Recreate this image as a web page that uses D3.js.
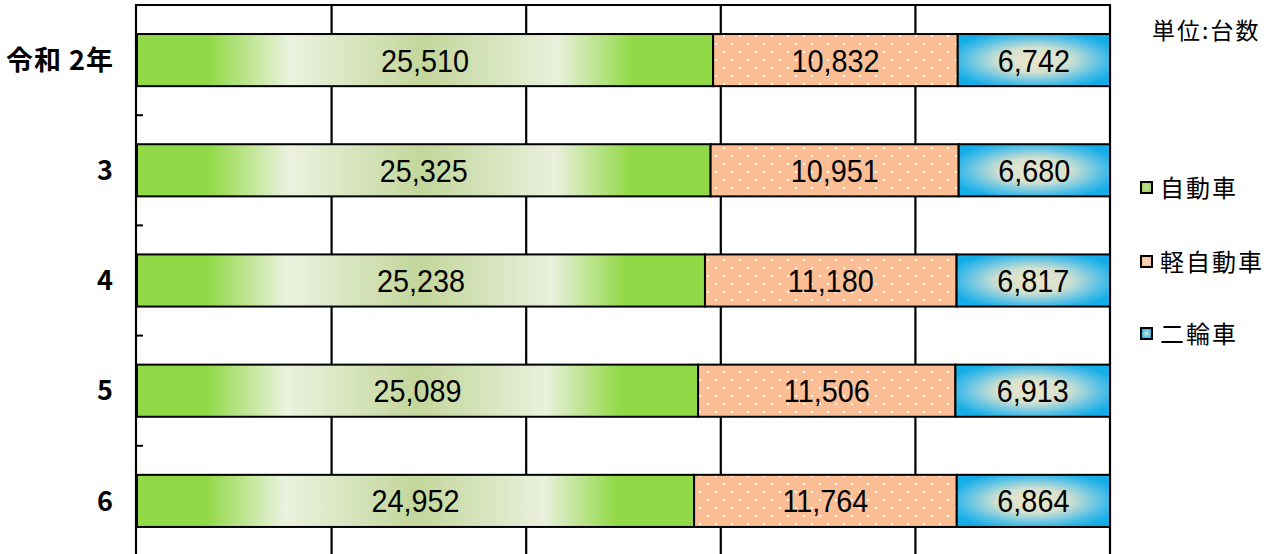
<!DOCTYPE html>
<html>
<head>
<meta charset="utf-8">
<script src="https://cdn.jsdelivr.net/npm/d3@7"></script>
<style>
  html, body { margin: 0; padding: 0; background: #fff; }
  svg { display: block; }
</style>
</head>
<body>
<svg id="chart" width="1275" height="554"></svg>
<script>
// Vehicle counts by fiscal year (units: vehicles)
const years = ["令和 2年", "3", "4", "5", "6"];
const seriesNames = ["自動車", "軽自動車", "二輪車"];
const cars = [25510, 25325, 25238, 25089, 24952];
const keiCars = [10832, 10951, 11180, 11506, 11764];
const motorcycles = [6742, 6680, 6817, 6913, 6864];
const gridTicks = [0, 0.2, 0.4, 0.6, 0.8, 1.0];

const seriesValues = [cars, keiCars, motorcycles];
const fills = ["url(#gCar)", "url(#pKei)", "url(#gMoto)"];
const legendFills = ["url(#gCarL)", "url(#gKeiL)", "url(#gMotoL)"];

const svg = d3.select("#chart");
const W = 1275, H = 554;
const plotLeft = 137, plotRight = 1110, plotTop = 5, plotBottom = 556;

// ---- paint definitions ----
const defs = svg.append("defs");

// Car bars: banded horizontal gradient green → pale → olive → pale → green
const gCar = defs.append("linearGradient").attr("id", "gCar")
  .attr("x1", 0).attr("x2", 1).attr("y1", 0).attr("y2", 0);
[[0, "#92d947"], [0.125, "#92d947"], [0.265, "#ebf2df"], [0.5, "#c3d69b"],
 [0.73, "#e9f0dc"], [0.86, "#92d947"], [1, "#92d947"]]
  .forEach(([o, c]) => gCar.append("stop").attr("offset", o).attr("stop-color", c));

// Kei car bars: peach with white dot grid
const pKei = defs.append("pattern").attr("id", "pKei")
  .attr("patternUnits", "userSpaceOnUse").attr("width", 16).attr("height", 16);
pKei.append("rect").attr("width", 16).attr("height", 16).attr("fill", "#fcbe94");
pKei.append("rect").attr("x", 3).attr("y", 3).attr("width", 2).attr("height", 2).attr("fill", "#fff");
pKei.append("rect").attr("x", 11).attr("y", 11).attr("width", 2).attr("height", 2).attr("fill", "#fff");

// Motorcycle bars: pale centre fading to sky blue
const gMoto = defs.append("radialGradient").attr("id", "gMoto")
  .attr("cx", 0.5).attr("cy", 0.5).attr("r", 0.58);
[[0, "#ede6c9"], [0.4, "#d3e1d0"], [0.78, "#52bfe6"], [1, "#14ade7"]]
  .forEach(([o, c]) => gMoto.append("stop").attr("offset", o).attr("stop-color", c));

// Legend swatches
function radial(id, inner, outer) {
  const g = defs.append("radialGradient").attr("id", id);
  g.append("stop").attr("offset", 0).attr("stop-color", inner);
  g.append("stop").attr("offset", 1).attr("stop-color", outer);
}
radial("gCarL", "#c8dca8", "#9fd45a");
radial("gKeiL", "#fde0c8", "#fbbd92");
radial("gMotoL", "#d8e6d6", "#27b1e4");

// ---- scales ----
const x = d3.scaleLinear().domain([0, 1]).range([plotLeft, plotRight]);
const y = d3.scaleBand().domain(years).range([plotTop, plotBottom])
  .paddingInner(0.527).paddingOuter(0.2635);

// stacked shares
const totals = years.map((_, i) => seriesValues.reduce((s, arr) => s + arr[i], 0));
const rows = years.map((yr, i) => {
  let acc = 0;
  return seriesValues.map((arr, k) => {
    const v = arr[i];
    const x0 = acc / totals[i];
    acc += v;
    return { year: yr, k, value: v, x0, x1: acc / totals[i] };
  });
});

// ---- grid & frame ----
const grid = svg.append("g");
grid.selectAll("line.v").data(gridTicks.slice(1)).join("line")
  .attr("x1", d => x(d)).attr("x2", d => x(d))
  .attr("y1", plotTop).attr("y2", H + 5)
  .attr("stroke", "#000").attr("stroke-width", 2.2);
grid.append("line")
  .attr("x1", x(0) - 1).attr("x2", x(1) + 1).attr("y1", plotTop).attr("y2", plotTop)
  .attr("stroke", "#000").attr("stroke-width", 2.2);

// ---- bars ----
const barG = svg.append("g");
rows.forEach(row => {
  barG.selectAll(null).data(row).join("rect")
    .attr("x", d => x(d.x0))
    .attr("y", d => y(d.year))
    .attr("width", d => x(d.x1) - x(d.x0))
    .attr("height", y.bandwidth())
    .attr("fill", d => fills[d.k])
    .attr("stroke", "#000").attr("stroke-width", 2);
});

// value labels in a slightly condensed face
const fmt = d3.format(",");
rows.forEach(row => {
  barG.selectAll(null).data(row).join("text")
    .attr("transform", d => `translate(${(x(d.x0) + x(d.x1)) / 2},${y(d.year) + y.bandwidth() / 2}) scale(0.9,1)`)
    .attr("dy", "0.36em")
    .attr("text-anchor", "middle")
    .attr("font-family", "'Liberation Sans', Arial, sans-serif")
    .attr("font-size", 32)
    .attr("fill", "#000")
    .text(d => fmt(d.value));
});

// ---- y axis ----
svg.append("line")
  .attr("x1", plotLeft - 1).attr("x2", plotLeft - 1).attr("y1", plotTop - 1).attr("y2", H + 5)
  .attr("stroke", "#000").attr("stroke-width", 2.2);
// category boundary ticks pointing into the plot
const bounds = years.slice(1).map(yr => y(yr) - y.step() * y.paddingInner() / 2);
svg.selectAll("line.tk").data(bounds).join("line")
  .attr("x1", plotLeft - 1).attr("x2", plotLeft + 6)
  .attr("y1", d => d).attr("y2", d => d)
  .attr("stroke", "#000").attr("stroke-width", 2);

svg.append("g").selectAll("text").data(years).join("text")
  .attr("x", 114)
  .attr("y", d => y(d) + y.bandwidth() / 2)
  .attr("dy", "0.36em")
  .attr("text-anchor", "end")
  .attr("font-family", "'Noto Sans CJK JP', sans-serif")
  .attr("font-weight", "bold")
  .attr("font-size", 27)
  .attr("letter-spacing", 1)
  .attr("fill", "#000")
  .text(d => d);

// ---- unit note ----
svg.append("text")
  .attr("x", 1152).attr("y", 31)
  .attr("dy", "0.36em")
  .attr("font-family", "'Noto Sans CJK JP', sans-serif")
  .attr("font-size", 23)
  .attr("letter-spacing", 2)
  .attr("fill", "#000")
  .text("単位:台数");

// ---- legend ----
const legendY = [188, 262, 334];
const lg = svg.append("g").selectAll("g").data(seriesNames).join("g")
  .attr("transform", (d, i) => `translate(1141, ${legendY[i]})`);
lg.append("rect")
  .attr("x", 0).attr("y", -6).attr("width", 11).attr("height", 11)
  .attr("fill", (d, i) => legendFills[i])
  .attr("stroke", "#000").attr("stroke-width", 2);
lg.append("text")
  .attr("x", 19).attr("y", 0)
  .attr("dy", "0.36em")
  .attr("font-family", "'Noto Sans CJK JP', sans-serif")
  .attr("font-size", 24)
  .attr("letter-spacing", 2)
  .attr("fill", "#000")
  .text(d => d);
</script>
</body>
</html>
